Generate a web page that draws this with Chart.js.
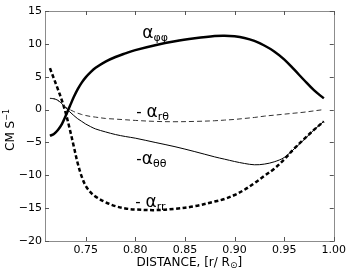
<!DOCTYPE html>
<html>
<head>
<meta charset="utf-8">
<script src="https://cdn.jsdelivr.net/npm/chart.js@4"></script>
<style>
  body { margin: 0; background: #fff; }
  #wrap { width: 349px; height: 271px; }
</style>
</head>
<body>
<div id="wrap"><canvas id="chartCanvas"></canvas></div>
<script>
// r / R_sun
const distance = [0.714, 0.718, 0.722, 0.726, 0.730, 0.734, 0.738, 0.742, 0.746, 0.750,
    0.755, 0.760, 0.770, 0.780, 0.790, 0.800, 0.820, 0.840, 0.860, 0.880,
    0.890, 0.900, 0.910, 0.920, 0.930, 0.940, 0.950, 0.960, 0.970, 0.980, 0.990];

const alphaPhiPhi = [-4.0, -3.7, -3.1, -2.2, -0.9, 0.5, 1.9, 3.1, 4.1, 4.9,
    5.7, 6.35, 7.3, 8.0, 8.55, 9.05, 9.8, 10.4, 10.85, 11.2,
    11.25, 11.15, 10.9, 10.45, 9.75, 8.85, 7.65, 6.1, 4.5, 2.95, 1.7];

const minusAlphaRTheta = [1.7, 1.65, 1.4, 0.9, 0.35, 0.0, -0.3, -0.55, -0.75, -0.9,
    -1.05, -1.15, -1.35, -1.45, -1.55, -1.65, -1.8, -1.85, -1.8, -1.7,
    -1.6, -1.5, -1.35, -1.2, -1.0, -0.85, -0.7, -0.55, -0.4, -0.2, 0.0];

const minusAlphaThetaTheta = [1.7, 1.65, 1.4, 0.9, 0.25, -0.35, -0.9, -1.4, -1.8, -2.2,
    -2.6, -2.95, -3.4, -3.8, -4.1, -4.35, -5.0, -5.65, -6.4, -7.2,
    -7.55, -7.9, -8.2, -8.4, -8.3, -7.95, -7.3, -6.0, -4.6, -3.1, -1.8];

const minusAlphaRR = [6.3, 4.7, 3.1, 1.4, -0.6, -3.0, -5.6, -8.2, -10.2, -11.6,
    -12.6, -13.25, -14.1, -14.7, -15.05, -15.2, -15.3, -15.1, -14.7, -14.0,
    -13.6, -13.0, -12.2, -11.2, -10.1, -9.0, -7.6, -5.95, -4.5, -3.1, -1.8];

const xTicks = [0.75, 0.80, 0.85, 0.90, 0.95, 1.00];
const yTicks = [-20, -15, -10, -5, 0, 5, 10, 15];

const FONT = "'DejaVu Sans', sans-serif";

function toPoints(ys) {
    return distance.map((x, i) => ({ x: x, y: ys[i] }));
}

// text with a subscript or superscript part
function drawScripted(ctx, x, y, main, mainSize, script, scriptSize, dy) {
    ctx.font = mainSize + 'px ' + FONT;
    ctx.fillText(main, x, y);
    const w = ctx.measureText(main).width;
    ctx.font = scriptSize + 'px ' + FONT;
    ctx.fillText(script, x + w, y + dy);
    return w + ctx.measureText(script).width;
}

// curve labels, anchored at left/baseline in data units
const curveLabels = [
    { pre: '', sub: '\u03c6\u03c6', x: 0.807, y: 10.9 },
    { pre: '- ', sub: 'r\u03b8', x: 0.801, y: -1.15 },
    { pre: '-', sub: '\u03b8\u03b8', x: 0.801, y: -8.3 },
    { pre: '- ', sub: 'rr', x: 0.800, y: -14.8 }
];

const framePlugin = {
    id: 'frame',
    afterDraw(chart) {
        const ctx = chart.ctx;
        const a = chart.chartArea;
        const xs = chart.scales.x, ys = chart.scales.y;
        ctx.save();
        ctx.strokeStyle = '#8c8c8c';
        ctx.lineWidth = 1;
        ctx.strokeRect(Math.round(a.left) + 0.5, Math.round(a.top) + 0.5,
            Math.round(a.right - a.left), Math.round(a.bottom - a.top));

        // inward ticks on all four sides
        ctx.strokeStyle = '#555';
        ctx.beginPath();
        xTicks.forEach(v => {
            const px = Math.round(xs.getPixelForValue(v)) + 0.5;
            ctx.moveTo(px, a.bottom); ctx.lineTo(px, a.bottom - 4);
            ctx.moveTo(px, a.top); ctx.lineTo(px, a.top + 4);
        });
        yTicks.forEach(v => {
            const py = Math.round(ys.getPixelForValue(v)) + 0.5;
            ctx.moveTo(a.left, py); ctx.lineTo(a.left + 4, py);
            ctx.moveTo(a.right, py); ctx.lineTo(a.right - 4, py);
        });
        ctx.stroke();

        ctx.fillStyle = '#000';
        ctx.textBaseline = 'alphabetic';
        ctx.textAlign = 'left';

        // curve labels
        curveLabels.forEach(l => {
            let px = xs.getPixelForValue(l.x);
            const py = ys.getPixelForValue(l.y);
            ctx.font = '15px ' + FONT;
            ctx.fillText(l.pre, px, py);
            px += ctx.measureText(l.pre).width;
            drawScripted(ctx, px, py, '\u03b1', 17, l.sub, 11, 3);
        });

        // x axis title
        ctx.font = '12px ' + FONT;
        const t1 = 'DISTANCE, [r/ R';
        const w1 = ctx.measureText(t1).width;
        ctx.font = '9px ' + FONT;
        const w2 = ctx.measureText('\u2299').width;
        ctx.font = '12px ' + FONT;
        const w3 = ctx.measureText(']').width;
        let tx = (a.left + a.right) / 2 - (w1 + w2 + w3) / 2;
        const ty = 266;
        ctx.fillText(t1, tx, ty);
        ctx.font = '9px ' + FONT;
        ctx.fillText('\u2299', tx + w1, ty + 2);
        ctx.font = '12px ' + FONT;
        ctx.fillText(']', tx + w1 + w2, ty);

        // y axis title
        ctx.translate(14, (a.top + a.bottom) / 2 + 4);
        ctx.rotate(-Math.PI / 2);
        ctx.font = '12px ' + FONT;
        const s1 = 'CM S';
        const sw1 = ctx.measureText(s1).width;
        ctx.font = '8px ' + FONT;
        const sw2 = ctx.measureText('\u22121').width;
        const sx = -(sw1 + sw2) / 2;
        ctx.font = '12px ' + FONT;
        ctx.fillText(s1, sx, 0);
        ctx.font = '8px ' + FONT;
        ctx.fillText('\u22121', sx + sw1, -5);
        ctx.restore();
    }
};

const ctx = document.getElementById('chartCanvas').getContext('2d');
new Chart(ctx, {
    type: 'line',
    data: {
        datasets: [
            { label: 'alpha_phiphi', data: toPoints(alphaPhiPhi), borderColor: '#000', borderWidth: 2.5 },
            { label: '-alpha_rtheta', data: toPoints(minusAlphaRTheta), borderColor: '#333', borderWidth: 1, borderDash: [5, 3] },
            { label: '-alpha_thetatheta', data: toPoints(minusAlphaThetaTheta), borderColor: '#000', borderWidth: 1 },
            { label: '-alpha_rr', data: toPoints(minusAlphaRR), borderColor: '#000', borderWidth: 2.5, borderDash: [4, 2.5] }
        ]
    },
    options: {
        responsive: true,
        maintainAspectRatio: false,
        animation: false,
        layout: { padding: { top: 11, right: 13, left: 0, bottom: 0 } },
        elements: {
            point: { radius: 0 },
            line: { tension: 0.35, fill: false }
        },
        plugins: {
            legend: { display: false },
            tooltip: { enabled: false }
        },
        scales: {
            x: {
                type: 'linear',
                min: 0.709,
                max: 1.0,
                afterBuildTicks: axis => { axis.ticks = xTicks.map(v => ({ value: v })); },
                afterFit: axis => { axis.height = 30; },
                grid: { display: false, drawTicks: false },
                border: { display: false },
                ticks: {
                    color: '#000',
                    padding: 3,
                    maxRotation: 0,
                    autoSkip: false,
                    font: { family: FONT, size: 11 },
                    callback: v => v.toFixed(2)
                }
            },
            y: {
                min: -20,
                max: 15,
                afterBuildTicks: axis => { axis.ticks = yTicks.map(v => ({ value: v })); },
                afterFit: axis => { axis.width = 45; },
                grid: { display: false, drawTicks: false },
                border: { display: false },
                ticks: {
                    color: '#000',
                    padding: 3,
                    autoSkip: false,
                    font: { family: FONT, size: 11 },
                    callback: v => v < 0 ? '\u2212' + Math.abs(v) : String(v)
                }
            }
        }
    },
    plugins: [framePlugin]
});
</script>
</body>
</html>
